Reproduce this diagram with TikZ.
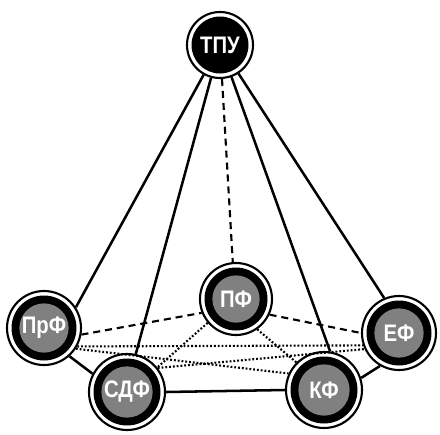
\documentclass[tikz,border=0pt]{standalone}
\usepackage{fontspec}
\newfontfamily\facfont{Liberation Sans}[FakeStretch=0.85]
\usetikzlibrary{calc}

\begin{document}
\begin{tikzpicture}[x=0.025cm,y=-0.025cm,
    ring/.style={circle,draw=black,line width=1.5pt,fill=white,inner sep=0pt,
      minimum size=#1*0.025cm,text=white,font=\facfont\bfseries\fontsize{17}{17}\selectfont},
    fac/.style={ring=#1,path picture={
      \fill[black](path picture bounding box.center)circle[radius=#1*0.0125cm-3.2pt];
      \fill[gray](path picture bounding box.center)circle[radius=#1*0.0125cm-8.8pt];}},
    uni/.style={ring=#1,path picture={
      \fill[black](path picture bounding box.center)circle[radius=#1*0.0125cm-3.2pt];}},
    link/.style={line width=1.8pt},
    weak/.style={line width=1.5pt,dash pattern=on 5pt off 3.5pt},
    side/.style={line width=1.5pt,dash pattern=on 1.3pt off 1.4pt}]
  \useasboundingbox (0,0) rectangle (440,434);
  \node[uni=66](tpu)at(220,45){ТПУ};
  \node[fac=72](pf)at(236,299){ПФ};
  \node[fac=74](prf)at(44,328){ПрФ};
  \node[fac=74](ef)at(399,333){ЕФ};
  \node[fac=76](sdf)at(127,392){СДФ};
  \node[fac=76](kf)at(324,390){КФ};
  \draw[link](tpu)--(prf.33);
  \draw[link](tpu)--(sdf.77);
  \draw[weak](tpu)--(pf.95);
  \draw[link](tpu)--(kf.81);
  \draw[link](tpu)--(ef.113);
  \draw[link](prf.-48)--(sdf.152);
  \draw[link](sdf.east)--(kf.west);
  \draw[link](kf.18)--(ef.240);
  \draw[weak](prf.-10)--(pf.202);
  \draw[weak](pf.-25)--(ef.180);
  \draw[side](prf.-29)--(ef.199);
  \draw[side](prf.-33)--(kf.155);
  \draw[side](sdf.38)--(ef.205);
  \draw[side](pf.220)--(sdf.39);
  \draw[side](pf.-55)--(kf.135);
\end{tikzpicture}
\end{document}
